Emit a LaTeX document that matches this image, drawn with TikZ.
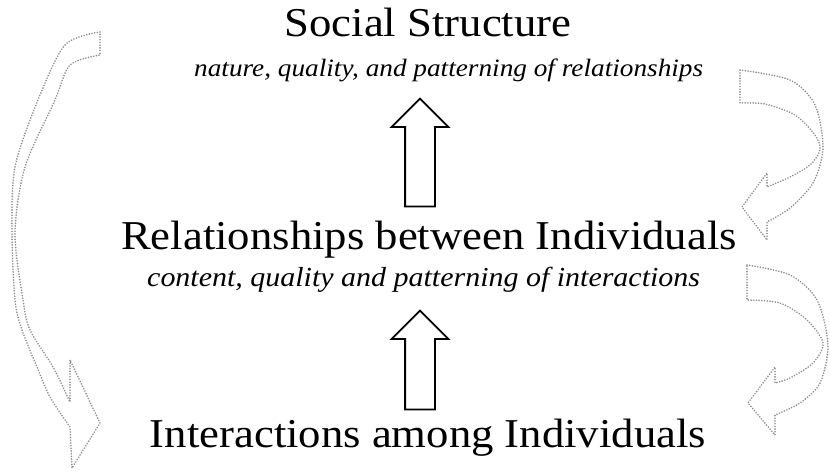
\documentclass[tikz,border=0pt]{standalone}
\usepackage{fontspec}
\usepackage{tikz}
\usetikzlibrary{shapes.arrows,positioning}
\newfontfamily\levelfont[FakeStretch=1.09]{Liberation Serif}
\definecolor{loopgray}{HTML}{8C8C8C}
\tikzset{
  level/.style={font=\levelfont\fontsize{41}{45}\selectfont,inner sep=0pt,anchor=base},
  gloss/.style={font=\levelfont\itshape\fontsize{#1}{#1}\selectfont,inner sep=0pt,anchor=base west},
  gloss/.default={27.5},
  rise/.style={single arrow,draw=black,fill=white,line width=1.8pt,rotate=90,
    inner sep=0pt,text height=14pt,text depth=14pt,single arrow head extend=13.5pt},
  feedback/.style={draw=loopgray,line width=1.8pt,dash pattern=on 0pt off 2.7pt,
    line cap=round,line join=round},
}

\begin{document}
\begin{tikzpicture}[x=1pt,y=-1pt]
  \useasboundingbox (0,0) rectangle (830,473);

  % the three levels
  \node[level] (soc) at (428,37) {Social Structure};
  \node[gloss=25] (socnote) at (194,77) {nature, quality, and patterning of relationships};
  \node[level] (rel) at (429,249) {Relationships between Individuals};
  \node[gloss] (relnote) at (147,287) {content, quality and patterning of interactions};
  \node[level] (inter) at (428,447) {Interactions among Individuals};

  % upward block arrows
  \node[rise,minimum height=108pt] (up1) at (420,160) {};
  \node[rise,minimum height=99pt] (up2) at (420,367.5) {};

  % long loop on the left, structure back down to interactions
  \draw[feedback]
    plot[smooth] coordinates {(100,32) (65,45) (38,100) (15,167) (12,233)
      (15,300) (22,330) (37,367) (50,397) (70,427)}
    -- (72,468) -- (100,423) -- (70,360) --
    plot[smooth] coordinates {(70,402) (53,367) (30,330) (23,300) (15,233)
      (25,167) (55,100) (70,65) (100,55)}
    -- cycle;

  % short loops on the right
  \draw[feedback]
    plot[smooth] coordinates {(740,70) (790,80) (815,105) (823,148)
      (813,183) (790,208) (767,222)}
    -- (767,240) -- (742,207) -- (767,173) --
    plot[smooth] coordinates {(767,187) (790,177) (810,165) (820,150)
      (815,135) (795,115) (765,104) (740,103)}
    -- cycle;
  \draw[feedback]
    plot[smooth] coordinates {(747,265) (790,275) (817,300) (828,345)
      (820,383) (800,403) (775,415)}
    -- (775,435) -- (748,403) -- (775,367) --
    plot[smooth] coordinates {(775,383) (790,378) (813,363) (823,343)
      (807,320) (780,303) (747,300)}
    -- cycle;
\end{tikzpicture}
\end{document}
